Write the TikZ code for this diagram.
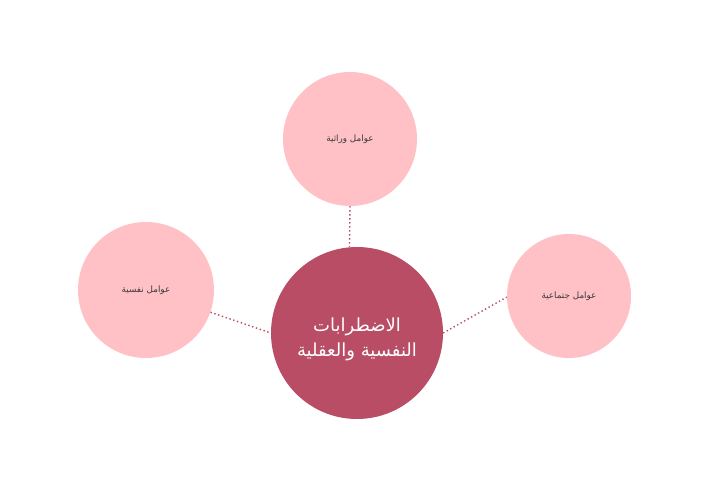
\documentclass[tikz,border=0pt]{standalone}
\usepackage{fontspec}
\newfontfamily\arabicfont[Script=Arabic]{DejaVu Sans}
\TeXXeTstate=1
\definecolor{rosedark}{HTML}{B84D65}
\definecolor{roselight}{HTML}{FFC1C6}
\definecolor{labelgray}{HTML}{3A3A3A}
\tikzset{
  hub/.style={circle, fill=rosedark, minimum size=172pt, inner sep=0pt},
  hubtext/.style={text=white, align=center,
    font=\arabicfont\fontsize{18}{25}\selectfont},
  factor/.style={circle, fill=roselight, text=labelgray, inner sep=0pt,
    font=\arabicfont\fontsize{8.8}{10}\selectfont},
  link/.style={rosedark, line width=1.4pt, dash pattern=on 1.4pt off 2.6pt}
}
\begin{document}
\begin{tikzpicture}[x=1pt, y=-1pt]
  \useasboundingbox (0, 0) rectangle (709, 494);

  % Center
  \node [hub] (disorders) at (357, 333) {};
  \node [hubtext] (disorderstext) at ([yshift=-6pt]disorders.center)
    {\beginR الاضطرابات\endR\\ \beginR النفسية والعقلية\endR};

  % Factors
  \node [factor, minimum size=134pt] (genetic) at (350, 139)
    {\raisebox{-2pt}{\beginR عوامل وراثية\endR}};
  \node [factor, minimum size=136pt] (psychic) at (146, 290)
    {\raisebox{-2pt}{\beginR عوامل نفسية\endR}};
  \node [factor, minimum size=124pt] (social) at (569, 296)
    {\raisebox{-2pt}{\beginR عوامل جتماعية\endR}};

  % Edges
  \draw [link] (genetic.south) -- (disorders.95);
  \draw [link] (psychic.-19) -- (disorders.180);
  \draw [link] (disorders.0) -- (social.181);
\end{tikzpicture}
\end{document}
